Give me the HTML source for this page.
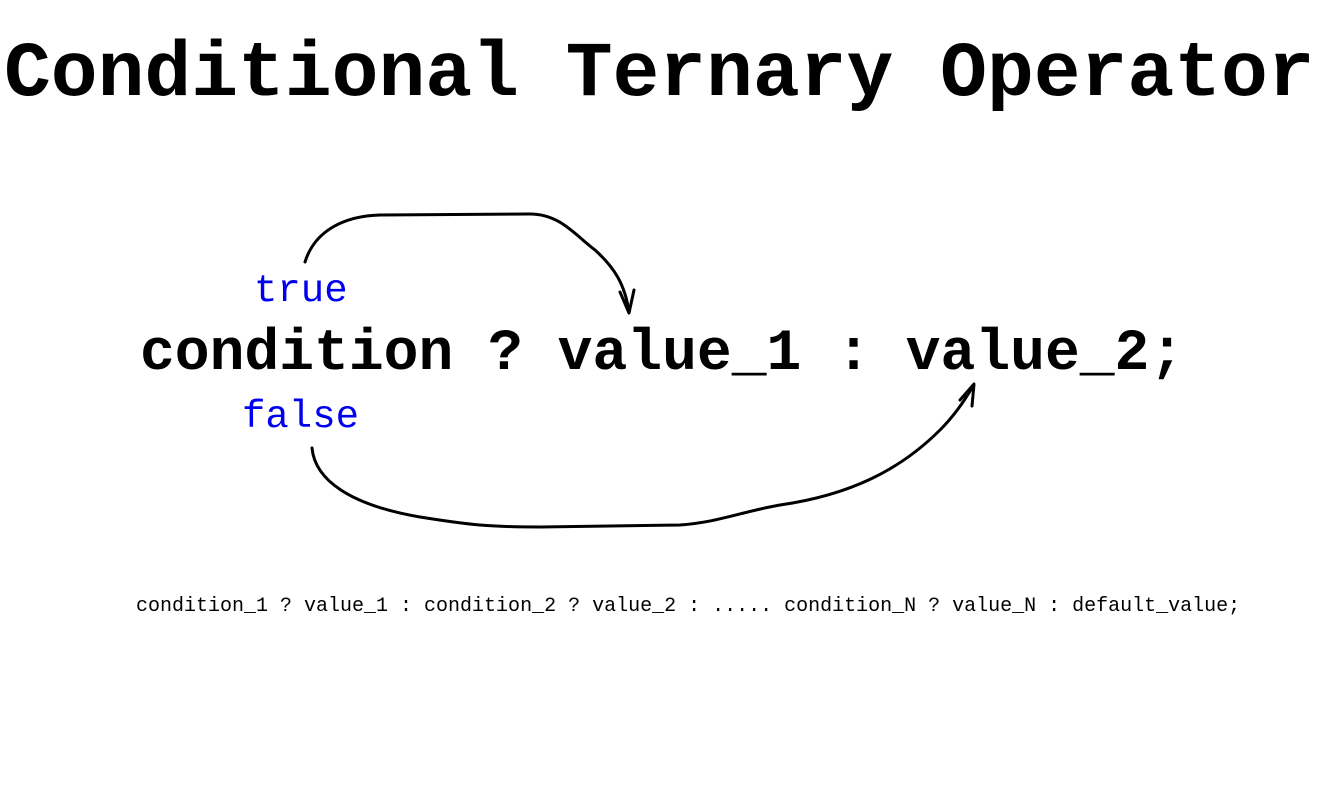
<!DOCTYPE html>
<html><head><style>
html,body{margin:0;padding:0;background:#fff;width:1340px;height:806px;overflow:hidden}
.t{position:absolute;white-space:pre;font-family:"Liberation Mono","DejaVu Sans Mono",monospace;line-height:1}
</style></head><body>
<div class="t" style="left:4px;top:36px;font-size:78px;font-weight:bold;">Conditional Ternary Operator</div>
<div class="t" style="left:140px;top:326px;font-size:58px;font-weight:bold;">condition ? value_1 : value_2;</div>
<div class="t" style="left:254px;top:272px;font-size:39px;color:#0000ee;">true</div>
<div class="t" style="left:242px;top:398px;font-size:39px;color:#0000ee;">false</div>
<div class="t" style="left:136px;top:597px;font-size:20px;">condition_1 ? value_1 : condition_2 ? value_2 : ..... condition_N ? value_N : default_value;</div>
<svg width="1340" height="806" style="position:absolute;left:0;top:0" fill="none" stroke="#000" stroke-width="3" stroke-linecap="round" stroke-linejoin="round">
<path d="M305 262 C315 230 345 216 380 215 L530 214 C560 214 575 235 595 250 C615 268 625 285 629 312"/>
<path d="M620 292 L629 313 L634 290"/>
<path d="M312 448 C315 480 350 505 420 517 C470 525 490 527 540 527 L680 525 C720 522 740 512 780 505 C850 495 900 470 940 430 C955 415 965 400 973 386"/>
<path d="M960 400 L974 384 L972 406"/>
</svg>
</body></html>
